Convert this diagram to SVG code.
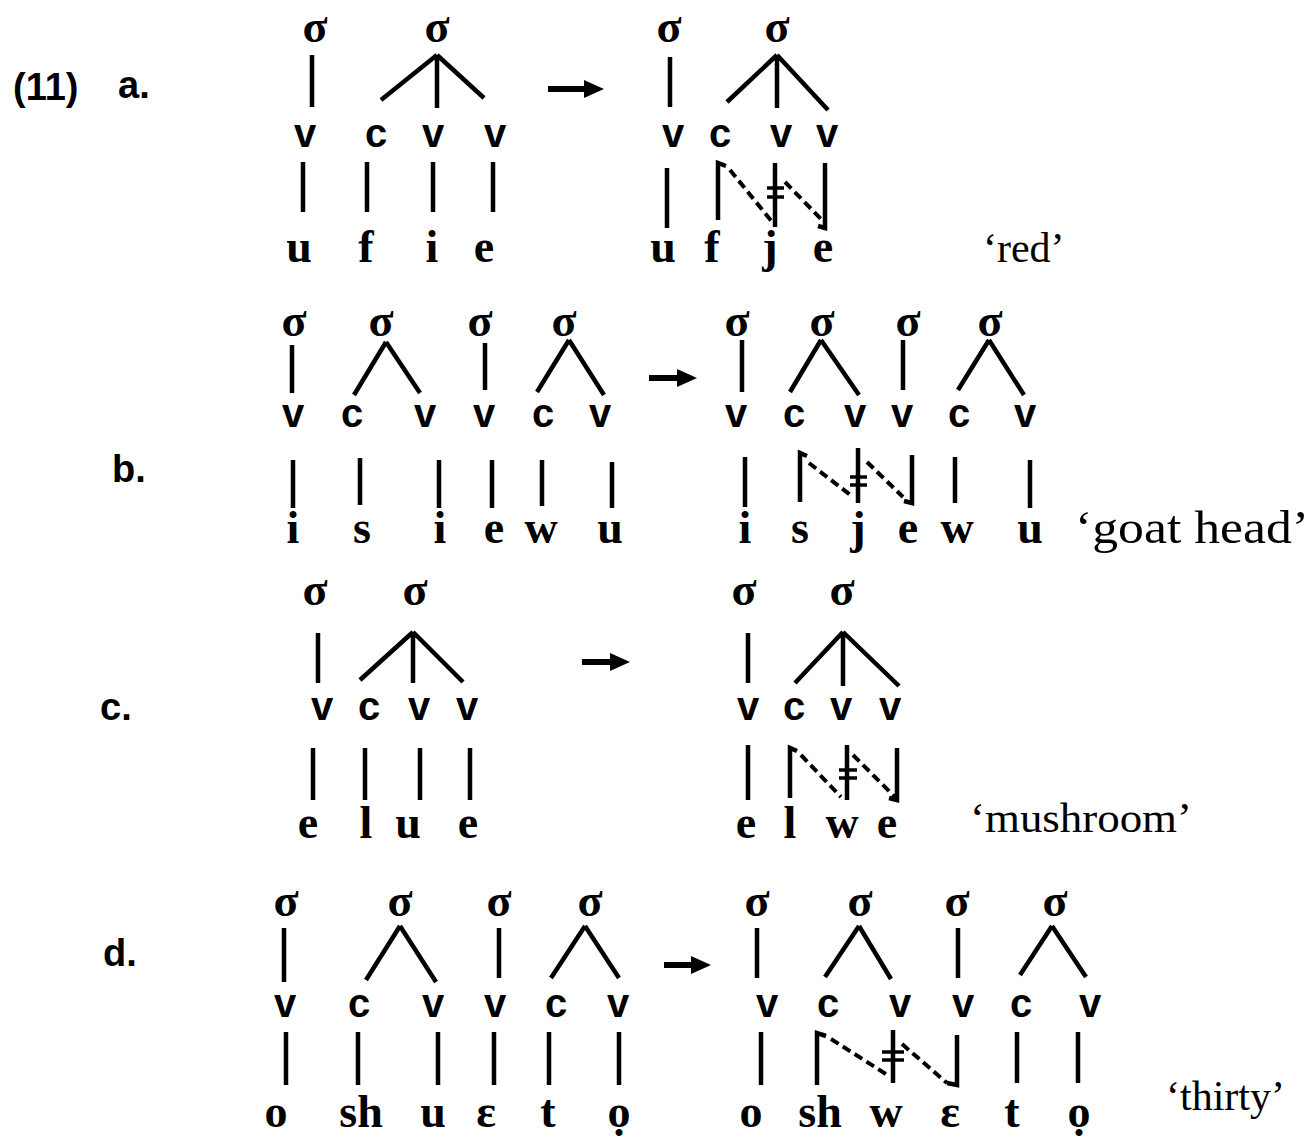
<svg xmlns="http://www.w3.org/2000/svg" width="1313" height="1138" viewBox="0 0 1313 1138">
<style>
text{fill:#000}
.sig{font-family:"Liberation Serif",serif;font-weight:bold;font-size:46px;text-anchor:middle}
.cv{font-family:"Liberation Sans",sans-serif;font-weight:bold;font-size:40px;text-anchor:middle}
.seg{font-family:"Liberation Serif",serif;font-weight:bold;font-size:46px;text-anchor:middle}
.gl{font-family:"Liberation Serif",serif;font-size:42px}
.lab{font-family:"Liberation Sans",sans-serif;font-weight:bold;font-size:38px}
.ln{stroke:#000;stroke-width:4.5;fill:none;stroke-linecap:butt}
.ds{stroke:#000;stroke-width:4;fill:none;stroke-dasharray:9 5}
.ne{stroke:#000;stroke-width:3.5}
.arr{stroke:#000;stroke-width:6;marker-end:url(#ah)}
</style>
<defs>
<marker id="ah" markerUnits="userSpaceOnUse" markerWidth="22" markerHeight="20" refX="8" refY="9" orient="auto">
<path d="M0,0 L20,9 L0,18 z" fill="#000"/>
</marker>
</defs>
<rect width="1313" height="1138" fill="#fff"/>

<g id="labels">
<text id="ex-num" class="lab" x="13" y="100">(11)</text>
<text id="lab-a" class="lab" x="118" y="98">a.</text>
<text id="lab-b" class="lab" x="112" y="482">b.</text>
<text id="lab-c" class="lab" x="100" y="720">c.</text>
<text id="lab-d" class="lab" x="103" y="966">d.</text>
</g>

<!-- (a) input -->
<g id="a-in">
<text id="a-in-s1" class="sig" x="315" y="42">σ</text>
<text id="a-in-s2" class="sig" x="437" y="42">σ</text>
<text id="a-in-v1" class="cv" x="305" y="147">v</text>
<text id="a-in-c1" class="cv" x="376" y="147">c</text>
<text id="a-in-v2" class="cv" x="433" y="147">v</text>
<text id="a-in-v3" class="cv" x="495" y="147">v</text>
<text id="a-in-u" class="seg" x="299" y="262">u</text>
<text id="a-in-f" class="seg" x="366" y="262">f</text>
<text id="a-in-i" class="seg" x="432" y="262">i</text>
<text id="a-in-e" class="seg" x="484" y="262">e</text>
</g>
<!-- (a) output -->
<g id="a-out">
<text id="a-out-s1" class="sig" x="669" y="42">σ</text>
<text id="a-out-s2" class="sig" x="777" y="42">σ</text>
<text id="a-out-v1" class="cv" x="673" y="147">v</text>
<text id="a-out-c1" class="cv" x="720" y="147">c</text>
<text id="a-out-v2" class="cv" x="781" y="147">v</text>
<text id="a-out-v3" class="cv" x="827" y="147">v</text>
<text id="a-out-u" class="seg" x="663" y="262">u</text>
<text id="a-out-f" class="seg" x="712" y="262">f</text>
<text id="a-out-j" class="seg" x="770" y="262">j</text>
<text id="a-out-e" class="seg" x="823" y="262">e</text>
<text id="a-gloss" class="gl" x="983" y="262">‘red’</text>
</g>

<!-- (b) input -->
<g id="b-in">
<text id="b-in-s1" class="sig" x="294" y="336">σ</text>
<text id="b-in-s2" class="sig" x="381" y="336">σ</text>
<text id="b-in-s3" class="sig" x="480" y="336">σ</text>
<text id="b-in-s4" class="sig" x="564" y="336">σ</text>
<text id="b-in-v1" class="cv" x="293" y="427">v</text>
<text id="b-in-c1" class="cv" x="352" y="427">c</text>
<text id="b-in-v2" class="cv" x="425" y="427">v</text>
<text id="b-in-v3" class="cv" x="484" y="427">v</text>
<text id="b-in-c2" class="cv" x="543" y="427">c</text>
<text id="b-in-v4" class="cv" x="600" y="427">v</text>
<text id="b-in-i1" class="seg" x="293" y="543">i</text>
<text id="b-in-s" class="seg" x="362" y="543">s</text>
<text id="b-in-i2" class="seg" x="440" y="543">i</text>
<text id="b-in-e" class="seg" x="494" y="543">e</text>
<text id="b-in-w" class="seg" x="541" y="543">w</text>
<text id="b-in-u" class="seg" x="610" y="543">u</text>
</g>
<!-- (b) output -->
<g id="b-out">
<text id="b-out-s1" class="sig" x="737" y="336">σ</text>
<text id="b-out-s2" class="sig" x="822" y="336">σ</text>
<text id="b-out-s3" class="sig" x="908" y="336">σ</text>
<text id="b-out-s4" class="sig" x="990" y="336">σ</text>
<text id="b-out-v1" class="cv" x="736" y="427">v</text>
<text id="b-out-c1" class="cv" x="794" y="427">c</text>
<text id="b-out-v2" class="cv" x="855" y="427">v</text>
<text id="b-out-v3" class="cv" x="902" y="427">v</text>
<text id="b-out-c2" class="cv" x="959" y="427">c</text>
<text id="b-out-v4" class="cv" x="1025" y="427">v</text>
<text id="b-out-i" class="seg" x="745" y="543">i</text>
<text id="b-out-s" class="seg" x="800" y="543">s</text>
<text id="b-out-j" class="seg" x="858" y="543">j</text>
<text id="b-out-e" class="seg" x="908" y="543">e</text>
<text id="b-out-w" class="seg" x="957" y="543">w</text>
<text id="b-out-u" class="seg" x="1030" y="543">u</text>
<text id="b-gloss" class="gl" x="1075" y="543" textLength="234" lengthAdjust="spacingAndGlyphs" style="font-size:46px">‘goat head’</text>
</g>

<!-- (c) input -->
<g id="c-in">
<text id="c-in-s1" class="sig" x="315" y="605">σ</text>
<text id="c-in-s2" class="sig" x="415" y="605">σ</text>
<text id="c-in-v1" class="cv" x="322" y="720">v</text>
<text id="c-in-c1" class="cv" x="369" y="720">c</text>
<text id="c-in-v2" class="cv" x="419" y="720">v</text>
<text id="c-in-v3" class="cv" x="467" y="720">v</text>
<text id="c-in-e1" class="seg" x="308" y="838">e</text>
<text id="c-in-l" class="seg" x="366" y="838">l</text>
<text id="c-in-u" class="seg" x="408" y="838">u</text>
<text id="c-in-e2" class="seg" x="468" y="838">e</text>
</g>
<!-- (c) output -->
<g id="c-out">
<text id="c-out-s1" class="sig" x="744" y="605">σ</text>
<text id="c-out-s2" class="sig" x="842" y="605">σ</text>
<text id="c-out-v1" class="cv" x="748" y="720">v</text>
<text id="c-out-c1" class="cv" x="794" y="720">c</text>
<text id="c-out-v2" class="cv" x="841" y="720">v</text>
<text id="c-out-v3" class="cv" x="890" y="720">v</text>
<text id="c-out-e1" class="seg" x="746" y="838">e</text>
<text id="c-out-l" class="seg" x="790" y="838">l</text>
<text id="c-out-w" class="seg" x="842" y="838">w</text>
<text id="c-out-e2" class="seg" x="887" y="838">e</text>
<text id="c-gloss" class="gl" x="970" y="832" textLength="222" lengthAdjust="spacingAndGlyphs">‘mushroom’</text>
</g>

<!-- (d) input -->
<g id="d-in">
<text id="d-in-s1" class="sig" x="286" y="916">σ</text>
<text id="d-in-s2" class="sig" x="400" y="916">σ</text>
<text id="d-in-s3" class="sig" x="499" y="916">σ</text>
<text id="d-in-s4" class="sig" x="590" y="916">σ</text>
<text id="d-in-v1" class="cv" x="285" y="1017">v</text>
<text id="d-in-c1" class="cv" x="359" y="1017">c</text>
<text id="d-in-v2" class="cv" x="433" y="1017">v</text>
<text id="d-in-v3" class="cv" x="495" y="1017">v</text>
<text id="d-in-c2" class="cv" x="556" y="1017">c</text>
<text id="d-in-v4" class="cv" x="618" y="1017">v</text>
<text id="d-in-o" class="seg" x="276" y="1127">o</text>
<text id="d-in-sh" class="seg" x="361" y="1127">sh</text>
<text id="d-in-u" class="seg" x="433" y="1127">u</text>
<text id="d-in-eps" class="seg" x="486" y="1127">ε</text>
<text id="d-in-t" class="seg" x="548" y="1127">t</text>
<text id="d-in-o2" class="seg" x="619" y="1127">ọ</text>
</g>
<!-- (d) output -->
<g id="d-out">
<text id="d-out-s1" class="sig" x="757" y="916">σ</text>
<text id="d-out-s2" class="sig" x="860" y="916">σ</text>
<text id="d-out-s3" class="sig" x="957" y="916">σ</text>
<text id="d-out-s4" class="sig" x="1055" y="916">σ</text>
<text id="d-out-v1" class="cv" x="767" y="1017">v</text>
<text id="d-out-c1" class="cv" x="828" y="1017">c</text>
<text id="d-out-v2" class="cv" x="900" y="1017">v</text>
<text id="d-out-v3" class="cv" x="963" y="1017">v</text>
<text id="d-out-c2" class="cv" x="1021" y="1017">c</text>
<text id="d-out-v4" class="cv" x="1090" y="1017">v</text>
<text id="d-out-o" class="seg" x="751" y="1127">o</text>
<text id="d-out-sh" class="seg" x="820" y="1127">sh</text>
<text id="d-out-w" class="seg" x="886" y="1127">w</text>
<text id="d-out-eps" class="seg" x="950" y="1127">ε</text>
<text id="d-out-t" class="seg" x="1012" y="1127">t</text>
<text id="d-out-o2" class="seg" x="1079" y="1127">ọ</text>
<text id="d-gloss" class="gl" x="1166" y="1110">‘thirty’</text>
</g>

<g id="connectors">
<!-- arrows -->
<line class="arr" x1="548" y1="89" x2="592" y2="89"/>
<line class="arr" x1="649" y1="378" x2="685" y2="378"/>
<line class="arr" x1="582" y1="662" x2="618" y2="662"/>
<line class="arr" x1="664" y1="965" x2="699" y2="965"/>

<!-- a input -->
<path class="ln" d="M312,55V107 M437,55L381,100 M437,55V108 M437,55L484,98"/>
<path class="ln" d="M303,162V212 M367,162V212 M433,162V212 M493,162V212"/>
<!-- a output -->
<path class="ln" d="M670,57V107 M777,55L727,102 M777,55V108 M777,55L828,110"/>
<path class="ln" d="M667,168V228 M726,166L718,163V220 M775,163V227 M825,163V228L818,226"/>
<path class="ds" d="M730,170L773,223 M785,182L822,220"/>
<path class="ne" d="M767,188H784 M767,197H784"/>

<!-- b input -->
<path class="ln" d="M292,345V393 M386,342L354,395 M386,342L420,393 M485,343V390 M569,340L537,392 M569,340L604,395"/>
<path class="ln" d="M293,460V508 M360,458V505 M439,460V508 M492,460V508 M542,460V506 M612,462V508"/>
<!-- b output -->
<path class="ln" d="M742,340V392 M821,340L790,392 M821,340L859,395 M903,340V390 M989,340L958,390 M989,340L1024,395"/>
<path class="ln" d="M745,457V507 M807,456L800,453V502 M858,448V503 M912,455V503L904,501 M955,457V503 M1030,460V508"/>
<path class="ds" d="M809,463L853,497 M867,462L903,497"/>
<path class="ne" d="M850,477H867 M850,485H867"/>

<!-- c input -->
<path class="ln" d="M318,633V683 M413,632L360,680 M413,632V683 M413,632L463,682"/>
<path class="ln" d="M313,748V800 M365,748V800 M420,748V800 M470,748V800"/>
<!-- c output -->
<path class="ln" d="M748,633V683 M843,632L795,683 M843,632V686 M843,632L899,686"/>
<path class="ln" d="M748,745V800 M797,751L790,748V798 M847,745V800 M897,748V800L889,798"/>
<path class="ds" d="M801,755L841,797 M853,755L895,797"/>
<path class="ne" d="M839,770H857 M839,778H857"/>

<!-- d input -->
<path class="ln" d="M284,928V982 M400,926L366,980 M400,926L436,982 M499,928V978 M585,926L551,978 M585,926L619,978"/>
<path class="ln" d="M286,1032V1085 M358,1032V1085 M438,1032V1085 M494,1032V1085 M549,1032V1085 M619,1032V1085"/>
<!-- d output -->
<path class="ln" d="M757,928V978 M859,926L825,977 M859,926L891,979 M958,928V978 M1052,926L1020,975 M1052,926L1086,977"/>
<path class="ln" d="M761,1032V1085 M826,1036L817,1033V1085 M893,1030V1083 M957,1035V1085L947,1083 M1017,1032V1083 M1078,1032V1083"/>
<path class="ds" d="M831,1039L889,1076 M902,1044L947,1083"/>
<path class="ne" d="M882,1052H904 M882,1060H904"/>
</g>
</svg>
